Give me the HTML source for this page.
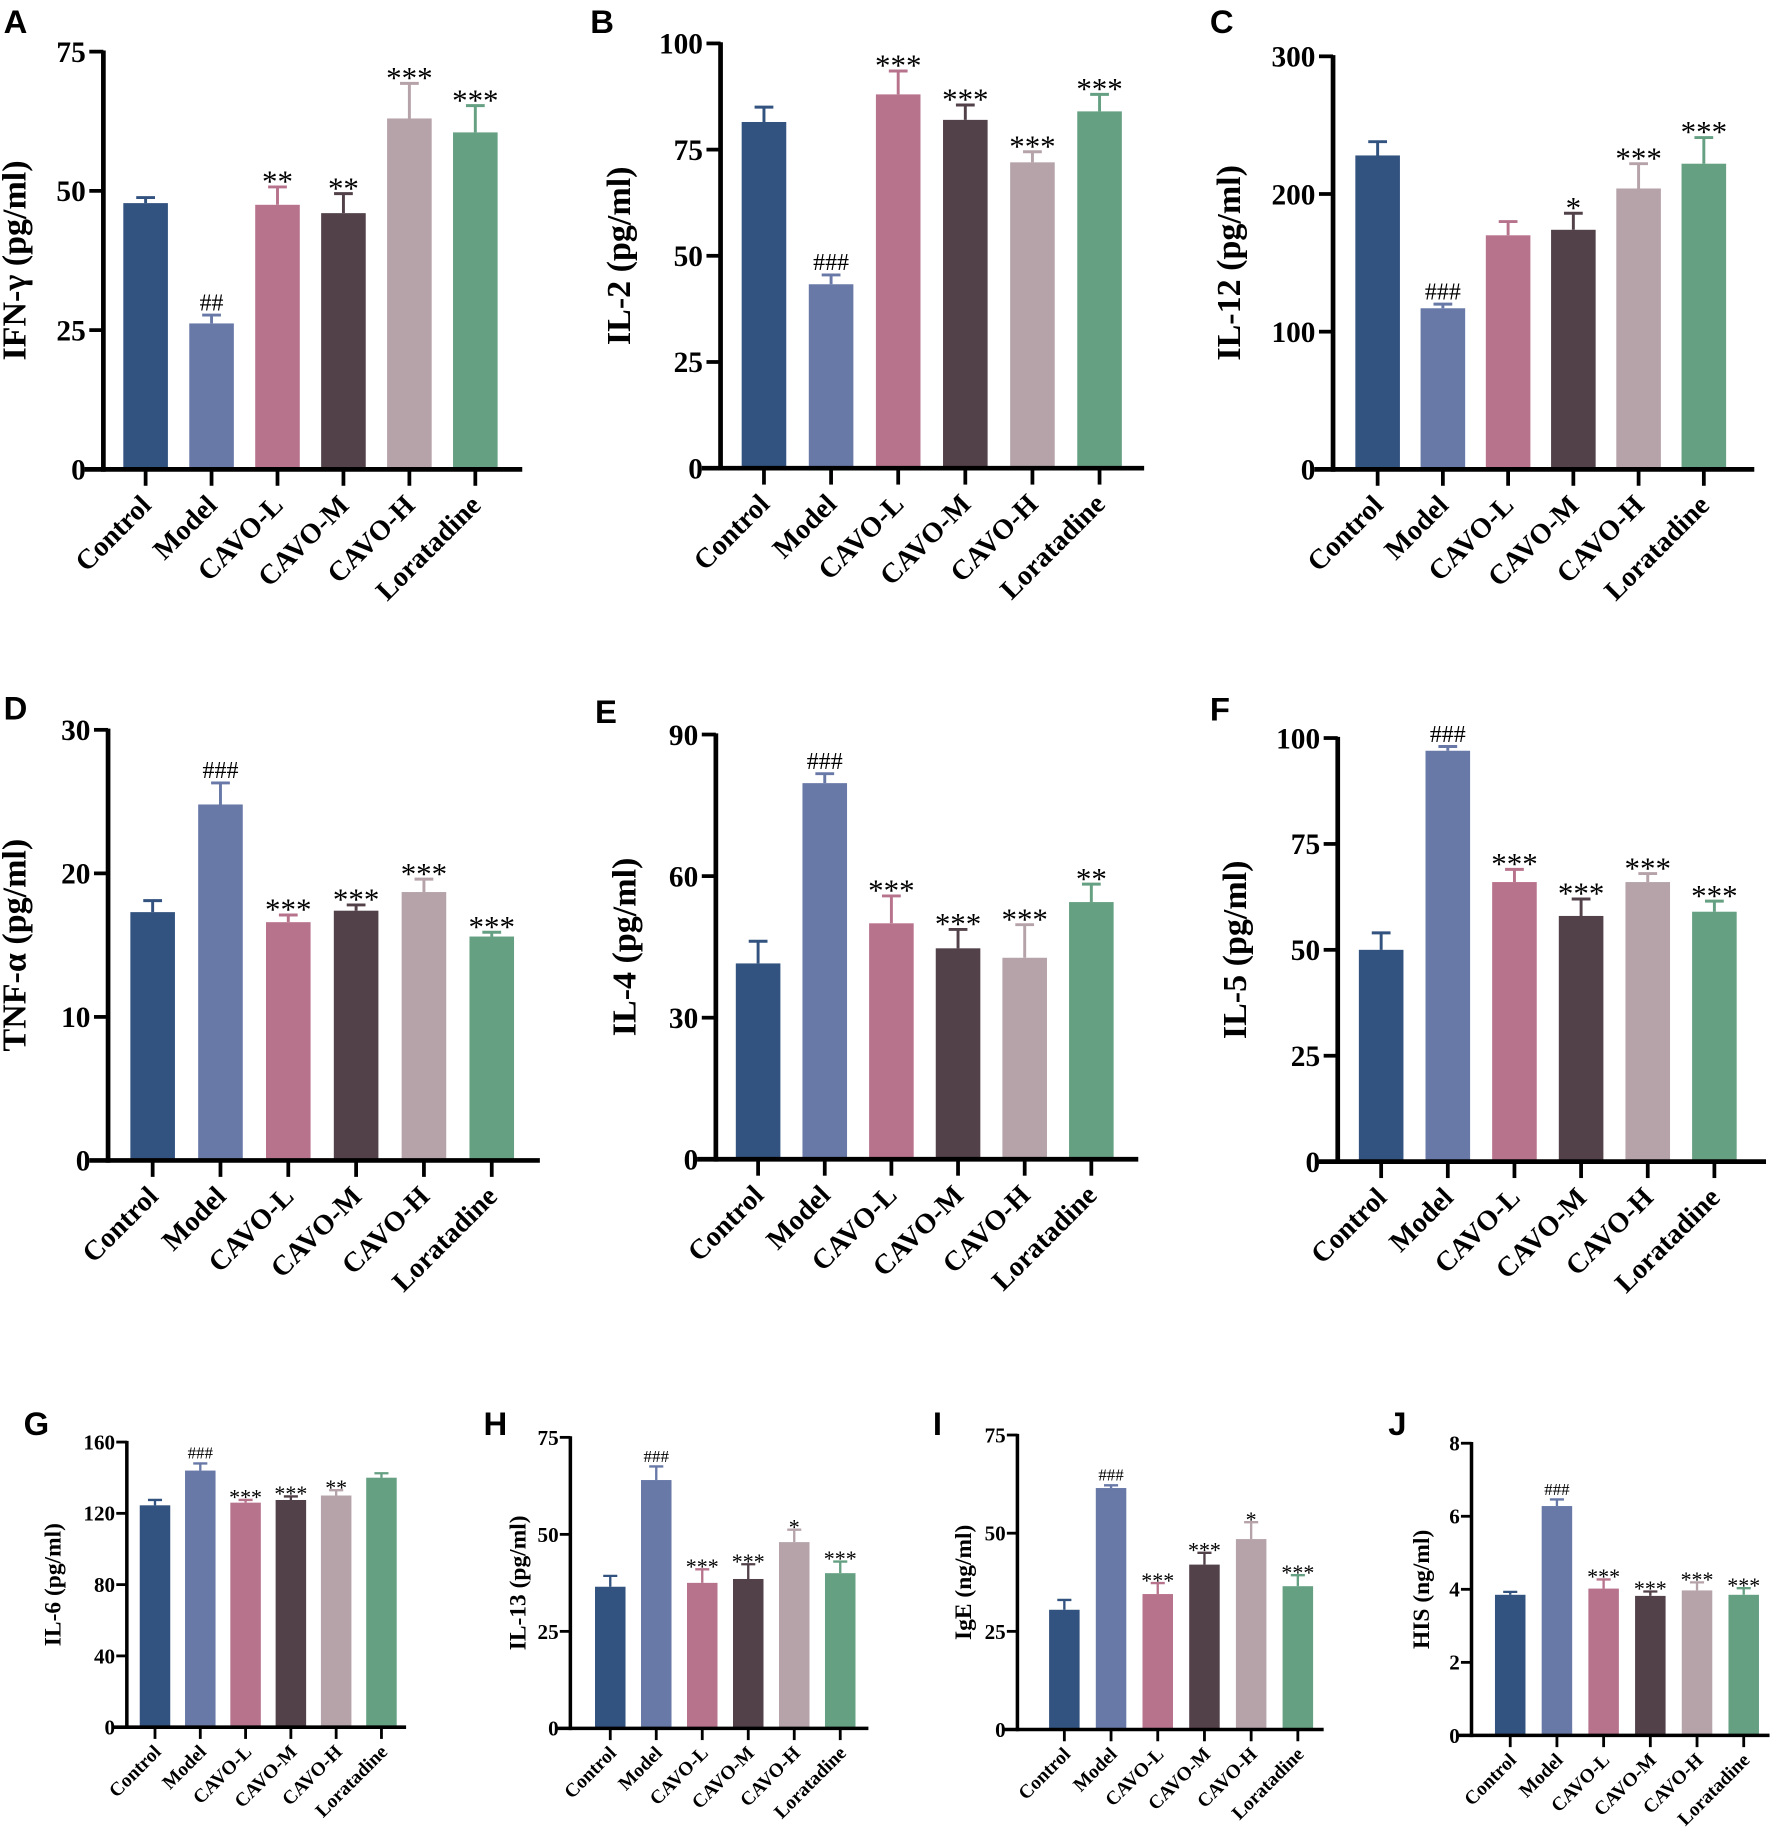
<!DOCTYPE html>
<html><head><meta charset="utf-8"><style>
html,body{margin:0;padding:0;background:#fff;}
svg{display:block;}
</style></head><body>
<svg id="fig" xmlns="http://www.w3.org/2000/svg" width="1772" height="1841" viewBox="0 0 1510 1569" style="font-family:'Liberation Serif',serif;">
<rect width="1510" height="1569" fill="#fff"/>
</svg>
<script>
const categories = ['Control','Model','CAVO-L','CAVO-M','CAVO-H','Loratadine'];
const colors = ['#32527f','#6879a8','#b8738c','#524149','#b5a3a9','#66a083'];

const ifnValues = [47.8,26.2,47.5,46,63,60.5];
const ifnErrors = [1,1.5,3.2,3.5,6.3,4.8];
const ifnSig = ['','##','**','**','***','***'];
const ifnTicks = [0,25,50,75];

const il2Values = [81.5,43.3,88,82,72,84];
const il2Errors = [3.5,2.2,5.5,3.5,2.5,4];
const il2Sig = ['','###','***','***','***','***'];
const il2Ticks = [0,25,50,75,100];

const il12Values = [228,117,170,174,204,222];
const il12Errors = [10,3,10,12,18,19];
const il12Sig = ['','###','','*','***','***'];
const il12Ticks = [0,100,200,300];

const tnfValues = [17.3,24.8,16.6,17.4,18.7,15.6];
const tnfErrors = [0.8,1.5,0.5,0.4,0.9,0.3];
const tnfSig = ['','###','***','***','***','***'];
const tnfTicks = [0,10,20,30];

const il4Values = [41.5,79.7,50,44.7,42.7,54.5];
const il4Errors = [4.7,2,5.8,4,7,3.8];
const il4Sig = ['','###','***','***','***','**'];
const il4Ticks = [0,30,60,90];

const il5Values = [50,97,66,58,66,59];
const il5Errors = [4,1,3,4,2,2.5];
const il5Sig = ['','###','***','***','***','***'];
const il5Ticks = [0,25,50,75,100];

const il6Values = [124.5,144,126,127.5,130,140];
const il6Errors = [3,4,1.5,2,3,2.5];
const il6Sig = ['','###','***','***','**',''];
const il6Ticks = [0,40,80,120,160];

const il13Values = [36.5,64,37.5,38.5,48,40];
const il13Errors = [2.8,3.5,3.5,3.8,3.2,3];
const il13Sig = ['','###','***','***','*','***'];
const il13Ticks = [0,25,50,75];

const igeValues = [30.5,61.5,34.5,42,48.5,36.5];
const igeErrors = [2.5,0.7,2.8,3,4.3,2.8];
const igeSig = ['','###','***','***','*','***'];
const igeTicks = [0,25,50,75];

const hisValues = [3.85,6.28,4.02,3.82,3.97,3.85];
const hisErrors = [0.08,0.18,0.25,0.12,0.22,0.18];
const hisSig = ['','###','***','***','***','***'];
const hisTicks = [0,2,4,6,8];

const NS='http://www.w3.org/2000/svg';
const svg=document.getElementById('fig');
function mk(tag,attrs,parent){const e=document.createElementNS(NS,tag);for(const k in attrs)e.setAttribute(k,attrs[k]);(parent||svg).appendChild(e);return e;}

const panels=[
 {id:'a',letter:'A',lx:3,ly:28,title:'IFN-γ (pg/ml)',tx:15,ax:88,top:44,zero:400,xend:445,x0:124,dx:56.2,v:ifnValues,e:ifnErrors,s:ifnSig,t:ifnTicks,big:true},
 {id:'b',letter:'B',lx:503,ly:28,title:'IL-2 (pg/ml)',tx:530,ax:614,top:37,zero:399,xend:975,x0:651,dx:57.2,v:il2Values,e:il2Errors,s:il2Sig,t:il2Ticks,big:true},
 {id:'c',letter:'C',lx:1031,ly:28,title:'IL-12 (pg/ml)',tx:1050,ax:1136,top:48,zero:400,xend:1495,x0:1174,dx:55.6,v:il12Values,e:il12Errors,s:il12Sig,t:il12Ticks,big:true},
 {id:'d',letter:'D',lx:3,ly:613,title:'TNF-α (pg/ml)',tx:15,ax:92,top:622,zero:989,xend:460,x0:130,dx:57.8,v:tnfValues,e:tnfErrors,s:tnfSig,t:tnfTicks,big:true},
 {id:'e',letter:'E',lx:507,ly:616,title:'IL-4 (pg/ml)',tx:535,ax:610,top:626,zero:988,xend:970,x0:646,dx:56.8,v:il4Values,e:il4Errors,s:il4Sig,t:il4Ticks,big:true},
 {id:'f',letter:'F',lx:1031,ly:614,title:'IL-5 (pg/ml)',tx:1055,ax:1140,top:629,zero:990,xend:1505,x0:1177,dx:56.8,v:il5Values,e:il5Errors,s:il5Sig,t:il5Ticks,big:true},
 {id:'g',letter:'G',lx:20,ly:1223,title:'IL-6 (pg/ml)',tx:47,ax:108,top:1229,zero:1472,xend:346,x0:132,dx:38.6,v:il6Values,e:il6Errors,s:il6Sig,t:il6Ticks,big:false},
 {id:'h',letter:'H',lx:412,ly:1223,title:'IL-13 (pg/ml)',tx:443,ax:486,top:1225,zero:1473,xend:740,x0:520,dx:39.2,v:il13Values,e:il13Errors,s:il13Sig,t:il13Ticks,big:false},
 {id:'i',letter:'I',lx:795,ly:1223,title:'IgE (ng/ml)',tx:823,ax:867,top:1223,zero:1474,xend:1128,x0:907,dx:39.8,v:igeValues,e:igeErrors,s:igeSig,t:igeTicks,big:false},
 {id:'j',letter:'J',lx:1183,ly:1223,title:'HIS (ng/ml)',tx:1213,ax:1254,top:1230,zero:1479,xend:1508,x0:1287,dx:39.8,v:hisValues,e:hisErrors,s:hisSig,t:hisTicks,big:false}
];

panels.forEach(p=>{
 const g=mk('g',{});
 
 
 const big=p.big;
 const maxT=p.t[p.t.length-1];
 const y=v=>p.zero-(v/maxT)*(p.zero-p.top);
 const aw=big?4:3, bw=big?38:26, cap=big?16:12;
 const tickF=big?25:18, titleF=big?29:20, labF=big?24:16.5, sigF=big?24:17;
 const L=mk('text',{x:p.lx,y:p.ly,'font-family':"'Liberation Sans',sans-serif",'font-weight':'bold','font-size':28},g);
 
 
 L.textContent=p.letter;
 p.v.forEach((v,i)=>{
  const cx=p.x0+i*p.dx, yt=y(v), ye=y(v+p.e[i]);
  const r=mk('rect',{x:cx-bw/2,y:yt,width:bw,height:p.zero-yt,fill:colors[i]},g);
  
  
  const eb=mk('path',{d:`M${cx},${yt} V${ye} M${cx-cap/2},${ye} H${cx+cap/2}`,stroke:colors[i],'stroke-width':big?2.5:2,fill:'none'},g);
  
  
  if(p.s[i]){
   const isHash=p.s[i].includes('#');
   const st=mk('text',{x:cx,y:ye-(isHash?4:-4),'text-anchor':'middle','font-size':isHash?sigF*0.85:sigF*1.1},g);
   
   
   st.textContent=p.s[i];
  }
  const tk=mk('line',{x1:cx,x2:cx,y1:p.zero,y2:p.zero+(big?14:10),stroke:'#000','stroke-width':aw*0.8},g);
  
  
  const lx=cx+6, ly=p.zero+(big?32:22);
  const lb=mk('text',{x:lx,y:ly,'text-anchor':'end','font-weight':'bold','font-size':labF,transform:`rotate(-45 ${lx} ${ly})`},g);
  
  
  lb.textContent=categories[i];
 });
 const ya=mk('line',{x1:p.ax,x2:p.ax,y1:p.top-1,y2:p.zero+aw/2,stroke:'#000','stroke-width':aw},g);
 
 
 const xa=mk('line',{x1:p.ax-(big?16:11),x2:p.xend,y1:p.zero,y2:p.zero,stroke:'#000','stroke-width':aw},g);
 
 
 p.t.forEach(t=>{
  const yy=y(t);
  const tl=mk('line',{x1:p.ax-(big?12:9),x2:p.ax,y1:yy,y2:yy,stroke:'#000','stroke-width':aw*0.8},g);
  
  
  const tt=mk('text',{x:p.ax-(big?15:10),y:yy+tickF*0.35,'text-anchor':'end','font-weight':'bold','font-size':tickF},g);
  
  
  tt.textContent=t;
 });
 const cy=(p.top+p.zero)/2;
 const ti=mk('text',{x:p.tx,y:cy,'text-anchor':'middle','font-weight':'bold','font-size':titleF,transform:`rotate(-90 ${p.tx} ${cy})`,'dominant-baseline':'middle'},g);
 
 
 ti.textContent=p.title;
});
</script>
</body></html>
